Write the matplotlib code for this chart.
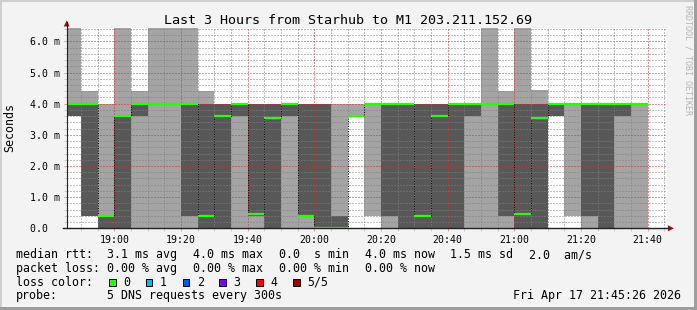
""" Smokeping style latency graph: Starhub to M1, last 3 hours. """

import numpy as np
import matplotlib
matplotlib.use("Agg")
import matplotlib.pyplot as plt
from matplotlib.lines import Line2D
from matplotlib.patches import Polygon, Rectangle
from matplotlib.ticker import MultipleLocator

W, H = 697, 310

# one value per 5 minute step, first step starts 18:45 (ms)
ping_min = [3.6, 0.4, 0.0, 0.0, 0.0, 0.0, 0.0, 0.0, 0.0, 0.0, 0.0, 0.0,
            0.0, 0.0, 0.0, 0.0, 0.0, 3.6, 0.4, 0.0, 0.0, 0.0, 0.0, 0.0,
            0.0, 0.0, 0.0, 0.0, 0.0, 3.6, 0.4, 0.0, 0.0, 0.0, 0.0]
ping_lo = [3.6, 0.4, 0.0, 0.0, 3.6, 4.0, 4.0, 0.4, 0.0, 0.0, 3.6, 0.4,
           0.0, 3.6, 0.4, 0.0, 0.0, 3.6, 4.0, 0.4, 0.0, 0.0, 0.0, 0.0,
           3.6, 4.0, 0.4, 0.0, 0.0, 3.6, 4.0, 0.4, 0.0, 3.6, 4.0]
median = [4.0, 4.0, 0.4, 3.6, 4.0, 4.0, 4.0, 4.0, 0.4, 3.6, 4.0, 0.45,
          3.55, 4.0, 0.4, 0.0, 0.0, 3.6, 4.0, 4.0, 4.0, 0.4, 3.6, 4.0,
          4.0, 4.0, 4.0, 0.45, 3.55, 4.0, 4.0, 4.0, 4.0, 4.0, 4.0]
ping_hi = [4.0, 4.0, 0.4, 3.6, 4.0, 4.0, 4.0, 4.0, 4.0, 4.0, 4.0, 4.0,
           4.0, 4.0, 4.0, 4.0, 0.4, 3.6, 4.0, 4.0, 4.0, 4.0, 4.0, 4.0,
           4.0, 4.0, 4.0, 4.0, 4.0, 4.0, 4.0, 4.0, 4.0, 4.0, 4.0]
ping_max = [8.0, 4.4, 4.0, 8.0, 4.4, 8.0, 8.0, 8.0, 4.4, 4.0, 4.0, 4.0,
            4.0, 4.0, 4.0, 4.0, 4.0, 4.0, 4.0, 4.0, 4.0, 4.0, 4.0, 4.0,
            4.0, 8.0, 4.4, 8.0, 4.45, 4.0, 4.0, 4.0, 4.0, 4.0, 4.0]

first_step = 18 * 60 + 45
step_minutes = 5
view_start = 18 * 60 + 45 + 42 / 60

x_ticks = [19 * 60, 19 * 60 + 20, 19 * 60 + 40, 20 * 60, 20 * 60 + 20,
           20 * 60 + 40, 21 * 60, 21 * 60 + 20, 21 * 60 + 40]
x_labels = ["19:00", "19:20", "19:40", "20:00", "20:20", "20:40",
            "21:00", "21:20", "21:40"]
y_ticks = [0, 1, 2, 3, 4, 5, 6]
y_labels = ["0.0  ", "1.0 m", "2.0 m", "3.0 m", "4.0 m", "5.0 m", "6.0 m"]

title = "Last 3 Hours from Starhub to M1 203.211.152.69"
rtt_row = ["median rtt:", "3.1 ms avg", "4.0 ms max", "0.0  s min",
           "4.0 ms now", "1.5 ms sd", "2.0  am/s"]
loss_row = ["packet loss:", "0.00 % avg", "0.00 % max", "0.00 % min",
            "0.00 % now"]
loss_labels = ["0", "1", "2", "3", "4", "5/5"]
loss_colors = ["#26ff00", "#00b8ff", "#0059ff", "#7e00ff", "#ff0000", "#a10000"]
probe_text = "5 DNS requests every 300s"
stamp = "Fri Apr 17 21:45:26 2026"

plt.rcParams["font.family"] = "DejaVu Sans Mono"


def fx(x):
    return x / W


def fy(y):
    return 1 - y / H


def main():
    fig = plt.figure(figsize=(W / 100, H / 100), dpi=100, facecolor="#f3f3f3")

    # rrdtool style frame shading
    fig.add_artist(Rectangle((0, fy(2)), 1, 2 / H, transform=fig.transFigure,
                             color="#cfcfcf", lw=0))
    fig.add_artist(Rectangle((0, 0), 2 / W, 1, transform=fig.transFigure,
                             color="#cfcfcf", lw=0))
    fig.add_artist(Rectangle((0, 0), 1, 3 / H, transform=fig.transFigure,
                             color="#9e9e9e", lw=0))
    fig.add_artist(Rectangle((fx(W - 3), 0), 3 / W, 1, transform=fig.transFigure,
                             color="#9e9e9e", lw=0))

    left, right, top, bottom = 66.7, 666.7, 28.0, 228.3
    ax = fig.add_axes([fx(left), fy(bottom), (right - left) / W, (bottom - top) / H])
    ax.set_facecolor("white")

    n = len(median)
    edges = first_step + step_minutes * np.arange(n + 1)

    ax.stairs(ping_max, edges, baseline=ping_min, fill=True, color="#a4a4a4",
              lw=0, zorder=1)
    ax.stairs(ping_hi, edges, baseline=ping_lo, fill=True, color="#585858",
              lw=0, zorder=1.1)
    ax.stairs(median, edges, baseline=None, color="#101010", lw=0.72,
              linestyle=(0, (1, 1.5)), zorder=2.6)
    ax.hlines(median, edges[:-1], edges[1:], color="#26ff00", lw=1.6,
              capstyle="butt", zorder=2.8)

    ax.set_xlim(view_start, view_start + 180)
    ax.set_ylim(0, 6.43)
    ax.set_xticks(x_ticks, x_labels)
    ax.set_yticks(y_ticks, y_labels)
    ax.xaxis.set_minor_locator(MultipleLocator(5))
    ax.yaxis.set_minor_locator(MultipleLocator(0.2))

    ax.set_axisbelow(False)
    ax.grid(which="minor", color=(0.5, 0.5, 0.5, 0.45), linestyle=(0, (1, 2)),
            lw=0.72)
    ax.grid(which="major", color=(0.85, 0.15, 0.15, 0.45), linestyle=(0, (1, 2)),
            lw=0.72)
    ax.tick_params(which="major", length=2.5, width=0.7, color="#d0a0a0",
                   direction="out", labelsize=7.1, pad=2.5)
    ax.tick_params(which="minor", length=2, width=0.7, color="#c8c8c8",
                   direction="out")
    for s in ax.spines.values():
        s.set_visible(False)

    # axes lines and arrows
    fig.add_artist(Line2D([fx(left), fx(left)], [fy(bottom), fy(22)],
                          color="#202020", lw=0.8))
    fig.add_artist(Line2D([fx(63), fx(668)], [fy(bottom), fy(bottom)],
                          color="#202020", lw=1.0))
    fig.add_artist(Polygon([(fx(63.7), fy(26.5)), (fx(69.7), fy(26.5)),
                            (fx(left), fy(20.5))], closed=True,
                           transform=fig.transFigure, color="#9a1010", lw=0))
    fig.add_artist(Polygon([(fx(668), fy(225.3)), (fx(668), fy(231.3)),
                            (fx(674), fy(bottom))], closed=True,
                           transform=fig.transFigure, color="#9a1010", lw=0))

    fig.text(fx(348.5), fy(24), title, ha="center", va="baseline", fontsize=9.6)
    fig.text(fx(10), fy(128), "Seconds", rotation=90, ha="center", va="center",
             fontsize=8.4)
    fig.text(fx(688), fy(60), "RRDTOOL / TOBI OETIKER", rotation=270,
             ha="center", va="center", fontsize=6, color="#b4b4b4")

    fs = 8.4
    rtt_x = [16, 107.3, 193.3, 279.3, 365, 450.5, 529.3]
    for text, x in zip(rtt_row, rtt_x):
        fig.text(fx(x), fy(258), text, va="baseline", fontsize=fs)
    loss_x = [16, 107.3, 193.3, 279.3, 365]
    for text, x in zip(loss_row, loss_x):
        fig.text(fx(x), fy(271.8), text, va="baseline", fontsize=fs)

    fig.text(fx(16), fy(285.6), "loss color:", va="baseline", fontsize=fs)
    box_x = [109, 145.7, 182.7, 219.3, 256.3, 293.3]
    for label, color, x in zip(loss_labels, loss_colors, box_x):
        fig.add_artist(Rectangle((fx(x), fy(286)), 6.7 / W, 6.7 / H,
                                 transform=fig.transFigure, facecolor=color,
                                 edgecolor="black", lw=0.7))
        fig.text(fx(x + 14.3), fy(285.6), label, va="baseline", fontsize=fs)

    fig.text(fx(16), fy(299.3), "probe:", va="baseline", fontsize=fs)
    fig.text(fx(107.3), fy(299.3), probe_text, va="baseline", fontsize=fs)
    fig.text(fx(680.7), fy(299.3), stamp, ha="right", va="baseline", fontsize=fs)

    fig.savefig("out.png", dpi=100, facecolor=fig.get_facecolor())


if __name__ == "__main__":
    main()
